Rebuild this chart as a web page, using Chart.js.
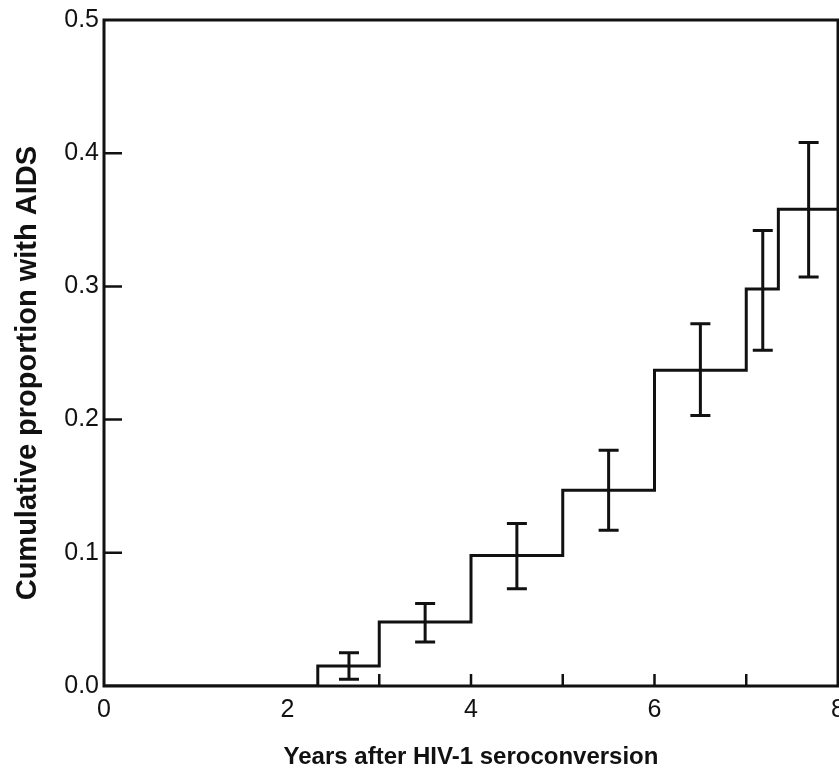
<!DOCTYPE html>
<html>
<head>
<meta charset="utf-8">
<script src="https://cdn.jsdelivr.net/npm/chart.js@4/dist/chart.umd.min.js"></script>
<style>
  html, body { margin: 0; padding: 0; background: #fff; overflow: hidden; }
  #wrap { width: 860px; height: 779px; }
</style>
</head>
<body>
<div id="wrap"><canvas id="aidsChart" width="860" height="779"></canvas></div>
<script>
// Kaplan-Meier style step curve: level holds from each year until the next one
const stepYears  = [0, 2.33, 3.0, 4.0, 5.0, 6.0, 7.0, 7.35, 8.0];
const stepLevels = [0, 0.015, 0.048, 0.098, 0.147, 0.237, 0.298, 0.358, 0.358];

// confidence bars
const ciYears = [2.67, 3.5, 4.5, 5.5, 6.5, 7.18, 7.68];
const ciLow   = [0.005, 0.033, 0.073, 0.117, 0.203, 0.252, 0.307];
const ciHigh  = [0.025, 0.062, 0.122, 0.177, 0.272, 0.342, 0.408];

const xLabelTicks = [0, 2, 4, 6, 8];
const xMarkTicks = [3, 4, 5, 6, 7];
const yTicks = [0, 0.1, 0.2, 0.3, 0.4, 0.5];

const ink = '#111';
const face = 'Liberation Sans, Arial, sans-serif';

// box, inward tick marks and error bars
const framePlugin = {
  id: 'frame',
  afterDatasetsDraw(chart){
    const {ctx, chartArea: a, scales: {x, y}} = chart;
    ctx.save();
    ctx.strokeStyle = ink;
    ctx.lineWidth = 3;
    ctx.lineCap = 'butt';
    ctx.strokeRect(a.left, a.top, a.right - a.left, a.bottom - a.top);

    ctx.lineWidth = 2.5;
    ctx.beginPath();
    yTicks.slice(1, -1).forEach(v => {
      const py = y.getPixelForValue(v);
      ctx.moveTo(a.left, py);
      ctx.lineTo(a.left + 18, py);
    });
    xMarkTicks.forEach(v => {
      const px = x.getPixelForValue(v);
      ctx.moveTo(px, a.bottom);
      ctx.lineTo(px, a.bottom - 12);
    });
    ctx.stroke();

    ctx.lineWidth = 3;
    ctx.beginPath();
    ciYears.forEach((yr, i) => {
      const px = x.getPixelForValue(yr);
      const lo = y.getPixelForValue(ciLow[i]);
      const hi = y.getPixelForValue(ciHigh[i]);
      ctx.moveTo(px, lo); ctx.lineTo(px, hi);
      ctx.moveTo(px - 10, lo); ctx.lineTo(px + 10, lo);
      ctx.moveTo(px - 10, hi); ctx.lineTo(px + 10, hi);
    });
    ctx.stroke();
    ctx.restore();
  }
};

new Chart(document.getElementById('aidsChart'), {
  type: 'line',
  data: {
    datasets: [{
      data: stepYears.map((yr, i) => ({x: yr, y: stepLevels[i]})),
      stepped: 'before',
      borderColor: ink,
      borderWidth: 3,
      pointRadius: 0,
      fill: false
    }]
  },
  options: {
    responsive: false,
    animation: false,
    layout: { padding: { left: 0, right: 22, top: 20, bottom: 0 } },
    plugins: { legend: { display: false }, tooltip: { enabled: false } },
    scales: {
      x: {
        type: 'linear',
        min: 0, max: 8,
        afterFit(s){ s.height = 93; },
        afterBuildTicks(s){ s.ticks = xLabelTicks.map(v => ({value: v})); },
        grid: { display: false, drawTicks: false },
        border: { display: false },
        ticks: {
          padding: 9,
          color: ink,
          font: { family: face, size: 25 },
          callback: v => String(v)
        },
        title: {
          display: true,
          text: 'Years after HIV-1 seroconversion',
          color: ink,
          padding: { top: 0, bottom: 7 },
          font: { family: face, size: 24, weight: 'bold' }
        }
      },
      y: {
        min: 0, max: 0.5,
        afterFit(s){ s.width = 104; },
        afterBuildTicks(s){ s.ticks = yTicks.map(v => ({value: v})); },
        grid: { display: false, drawTicks: false },
        border: { display: false },
        ticks: {
          padding: 5,
          color: ink,
          font: { family: face, size: 25 },
          callback: v => v.toFixed(1)
        },
        title: {
          display: true,
          // trailing spaces nudge the rotated title down a little, as in the original
          text: 'Cumulative proportion with AIDS     ',
          color: ink,
          padding: { top: 11, bottom: 0 },
          font: { family: face, size: 29, weight: 'bold' }
        }
      }
    }
  },
  plugins: [framePlugin]
});
</script>
</body>
</html>
